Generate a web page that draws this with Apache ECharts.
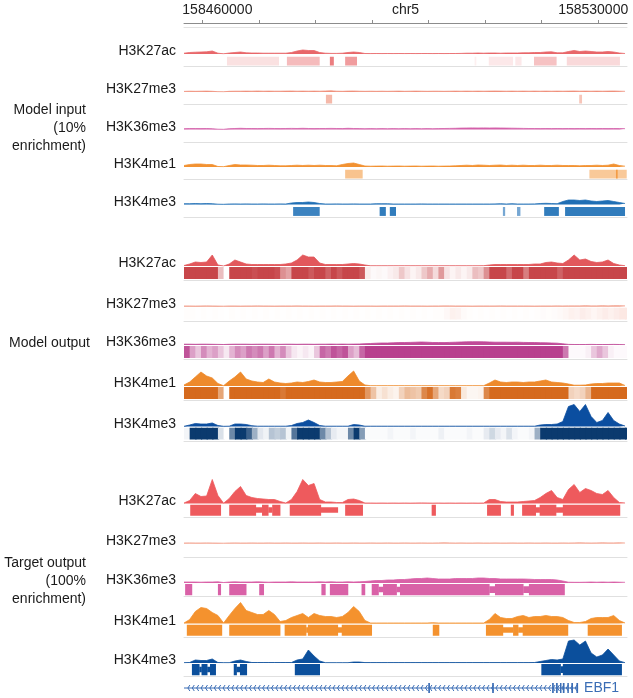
<!DOCTYPE html>
<html><head><meta charset="utf-8">
<script src="https://cdn.jsdelivr.net/npm/echarts@6/dist/echarts.min.js"></script>
<style>html,body{margin:0;padding:0;background:#fff}#c{width:633px;height:698px}</style>
</head><body><div id="c"></div>
<script>
// ---------------- DATA ----------------
const CHROM = 'chr5';
const WINDOW_START = 158456750;          // bp at left edge of the view
const WINDOW_KB = 78.35;                 // view width in kb
const tickValues = [158460000,158470000,158480000,158490000,158500000,158510000,158520000,158530000];
const tickLabels = [158460000,158530000];
const marks = ['H3K27ac','H3K27me3','H3K36me3','H3K4me1','H3K4me3'];
const groupNames = ['Model input\n(10%\nenrichment)','Model output','Target output\n(100%\nenrichment)'];

// signal tracks, 1 kb bins from the window start
const inH3K27ac = [0.8,1.5,1.8,2,2.2,3,0.8,0.2,1,1.5, 2,1.2,1,1,0.8,0.8,0.8,0.8,0.8,1.5, 3,4,3.5,3.5,1.5,0.8,0.6,0.6,0.8,1.5, 2,1.5,0.5,0.4,0.5,0.4,0.5,0.4,0.5,0.4, 0.5,0.4,0.5,0.5,0.4,0.5,0.4,0.5,0.5,0.6, 0.8,0.8,1,0.8,1,1,0.8,1,1,1, 1.2,1.2,1.5,1.5,2,2.2,1.2,1.2,2.5,3.5, 2.5,3,2.5,2,2,2.5,2,1,0.5];
const inH3K27me3 = [0.6,0.8,0.7,0.8,0.9,0.7,0.3,0.2,0.7,0.8, 0.8,0.9,0.8,1,0.8,0.9,0.8,0.8,0.9,1, 0.8,0.9,0.8,0.9,0.8,1,1.2,0.8,0.7,0.9, 1,0.8,0.7,0.8,0.7,0.8,0.7,0.8,0.9,0.7, 0.8,0.9,0.8,0.7,0.8,0.8,0.7,0.8,0.9,0.8, 0.9,0.8,0.9,0.8,0.9,1,0.9,0.8,0.9,0.8, 0.9,0.8,0.9,0.8,0.9,0.8,0.9,0.8,0.9,1, 0.8,0.9,0.8,0.9,0.8,0.9,1,0.8,0.7];
const inH3K36me3 = [0.8,1,1,0.9,1,0.8,0.3,0.2,0.8,1, 1.2,1,1,0.9,1,1.1,1,0.9,1,1.1, 1,1.2,1,0.9,1,1,1.1,1,0.9,1.2, 1,0.9,0.8,0.9,0.8,0.9,0.8,0.9,0.8,0.9, 0.8,0.9,0.8,0.9,0.8,0.9,1,1.1,1.2,1.4, 1.5,1.6,1.5,1.6,1.5,1.6,1.5,1.4,1.3,1.2, 1.1,1,1,0.9,1,0.9,1,0.9,1,0.9, 1,0.9,1,0.9,1,0.9,1,0.9,0.8];
const inH3K4me1 = [1.5,2.5,3,3,2.5,2.5,0.5,0.3,1.5,2.5, 2,2,1.8,1.5,1.5,1.8,1.5,1.2,1.2,1.5, 1.8,1.5,1.8,1.5,1.8,1.5,1.5,1.2,2.5,3.5, 4,2.5,1,0.8,0.9,1,0.8,0.9,1,0.8, 0.9,1,0.8,0.9,1,0.8,0.9,1,1.2,1.5, 1.8,1.5,2,1.8,1.5,1.8,2,1.5,1.8,1.5, 1.8,1.5,1.5,1.8,1.5,1.5,1.8,1.5,1.5,1.5, 1.2,1.5,1.5,1.8,1.5,1.8,3,1.5,0.8];
const inH3K4me3 = [0.8,0.8,1,0.8,1,0.8,0.3,0.2,0.5,0.6, 0.5,0.6,0.5,0.5,0.6,0.5,0.5,0.6,0.5,1.5, 2,2,2.5,2,1,0.5,0.5,0.6,0.5,0.5, 0.6,0.5,0.5,0.5,0.8,0.8,0.8,0.5,0.5,0.5, 0.5,0.5,0.6,0.5,0.5,0.5,0.5,0.5,0.5,0.5, 0.5,0.5,0.5,0.5,0.5,0.6,0.8,0.5,0.8,0.5, 0.5,0.5,0.6,1,1.2,1,0.8,3,4.5,4.5, 4,4.5,3.5,3,3.5,4,3,2,1];

const outH3K27ac = [0.5,2,4,3.5,4,11,1,0,2,6, 4,2,1.5,1.5,1.5,1.5,1.5,1.5,2,3, 6,11,9,9,3,1.5,1.5,1.5,1.5,2, 2.5,2,1,0.2,0.2,0.2,0.2,0.2,0.2,0.2, 0.2,0.2,0.2,0.2,0.2,0.2,0.2,0.2,0.2,0.2, 0.2,0.2,0.2,0.3,1,1.5,1.5,1.5,1.5,1.5, 1.5,1.5,2,2,3.5,4,3,2.5,6,11, 6,7,4.5,3.5,4,6,2.5,1,0.3];
const outH3K27me3 = [0.5,0.5,0.4,0.5,0.6,0.5,0.4,0.3,0.5,0.5, 0.4,0.5,0.5,0.6,0.5,0.5,0.4,0.5,0.5,0.5, 0.6,0.5,0.5,0.4,0.5,0.5,0.5,0.6,0.5,0.5, 0.4,0.5,0.5,0.5,0.4,0.5,0.5,0.5,0.5,0.6, 0.5,0.5,0.5,0.4,0.5,0.5,0.6,0.6,0.5,0.5, 0.5,0.4,0.5,0.5,0.5,0.5,0.6,0.5,0.5,0.5, 0.5,0.5,0.4,0.5,0.5,0.5,0.6,0.5,0.6,0.6, 0.6,0.7,0.6,0.6,0.7,0.6,0.7,0.7,0.6];
const outH3K36me3 = [0.8,0.8,0.7,0.8,0.8,0.7,0.6,0.5,0.7,0.8, 0.8,0.8,0.7,0.8,0.8,0.8,0.7,0.7,0.8,0.8, 0.7,0.8,0.8,0.7,0.8,0.8,0.9,0.8,0.9,0.8, 0.9,1,1.3,1.5,1.8,2,2,2.2,2.4,2.5, 2.6,2.8,3,2.8,2.5,2.5,2.4,2.6,2.8,3, 3.2,3.3,3.3,3.2,3,2.8,2.8,2.8,2.7,2.8, 2.6,2.5,2.5,2.3,2.2,2,1.8,1.2,0.6,0.5, 0.5,0.5,0.6,0.5,0.5,0.5,0.6,0.5,0.4];
const outH3K4me1 = [1,4,9,14,10,8,2.5,0.3,5,9, 14,7,5,4,3.5,7,4,3,2.5,3, 4,3.5,4.5,6,4,3.5,3.5,4,4.5,10, 15,5,1,0.3,0.3,0.3,0.3,0.3,0.3,0.3, 0.3,0.3,0.3,0.3,0.3,0.3,0.3,0.3,0.3,0.3, 0.3,0.3,0.3,0.3,3,6,4,3.5,4,4, 3.5,4,4,5,6,4,3.5,3,2,0.8, 0.8,1,2,2.5,2.5,3,3,3,0.5];
const outH3K4me3 = [0.2,1.5,3,2.5,2.5,3.5,1,0.2,0.3,2.5, 2.5,2,0.8,0.3,0.3,0.3,0.3,0.3,0.3,1, 3,4,6.5,4,1,0.3,0.3,0.3,0.3,0.3, 2,1.5,0.3,0.3,0.3,0.3,0.3,0.3,0.3,0.3, 0.3,0.3,0.3,0.3,0.3,0.3,0.3,0.3,0.3,0.3, 0.3,0.3,0.3,0.3,0.3,0.3,0.3,0.3,0.3,0.3, 0.3,0.3,0.3,1.5,2,2,2.5,5,20,22, 15,22,10,4,6,14,6,2.5,0.5];

const tgtH3K27ac = [0.5,3,10,7,7.5,24,8,0.3,5,12, 17,8,6,5,4.5,4,4,2,0.5,4, 12,24,18,20,4,1.5,1.5,1,1,4, 4.5,3,0.5,0.5,0.4,0.5,0.4,0.5,0.4,0.5, 0.4,0.5,0.6,0.5,0.4,0.5,0.4,0.5,0.4,0.5, 0.4,0.5,0.4,0.5,4,4,2,1.5,1.5,1.5, 2,2.5,3,6,10,13,6,4,14,19, 11,15,13,10,9,13,6,1,0.5];
const tgtH3K27me3 = [0.5,0.6,0.5,0.5,0.6,0.5,0.4,0.3,0.5,0.6, 0.5,0.5,0.6,0.5,0.5,0.6,0.5,0.5,0.6,0.5, 0.5,0.6,0.5,0.5,0.6,0.5,0.5,0.6,0.5,0.5, 0.6,0.5,0.5,0.6,0.5,0.5,0.6,0.5,0.5,0.6, 0.5,0.5,0.6,0.5,0.5,0.6,0.7,0.6,0.5,0.6, 0.5,0.5,0.6,0.5,0.5,0.6,0.5,0.5,0.6,0.5, 0.5,0.6,0.5,0.5,0.6,0.5,0.5,0.6,0.5,0.6, 0.7,0.6,0.5,0.6,0.7,0.6,0.6,0.7,0.5];
const tgtH3K36me3 = [1,1,1,0.8,1,1,1.2,0.5,1,1.2, 1,1,1,1.2,1,0.8,1,1,1,1.2, 1,1,1,1,1.2,1,1.2,1,1,1.2, 1,1.2,1.5,2,2.5,2.5,3,3,3.5,3.5, 4,4.5,4.5,5,4.5,4,4,4,4.5,4.5, 4.5,4.5,5,5,4.5,4.5,4,4,4,4, 4,3.8,3.5,3.5,3.5,3.5,3,2,0.8,0.7, 0.7,0.8,1,0.8,1,0.8,1,0.8,0.7];
const tgtH3K4me1 = [0.5,4,12,16,15,11,8,0.5,8,15, 21,13,11,9,9,13,9,2,3,6, 8,10,6,10,8,7,7,6,7,11, 17,12,3,0.5,0.5,0.5,0.5,0.5,0.5,0.5, 0.5,0.5,0.5,0.5,0.8,0.5,0.5,0.5,0.5,0.5, 0.5,0.5,0.5,0.5,4,10,6,5,5,7, 8,6,7,7,8,7,7,6,3,1, 1,2,5,6,6,6,8,3,0.5];
const tgtH3K4me3 = [0.3,0.5,3,2.5,2.5,4,0.5,0.3,0.3,2, 3,1.5,0.5,0.5,0.5,0.5,0.5,0.5,0.5,0.5, 3,4,13,7,2,0.3,0.3,0.3,0.3,0.3, 1,1,0.4,0.4,0.4,0.4,0.4,0.4,0.4,0.4, 0.4,0.4,0.4,0.4,0.4,0.4,0.4,0.4,0.4,0.4, 0.4,0.4,0.4,0.4,0.4,0.4,0.4,0.4,0.4,0.4, 0.4,0.4,0.5,1.5,2.5,3.5,3,4,22,23, 18,22,10,6,8,14,8,2,0.3];

// model input: called regions [startKb, endKb, intensity]
const inH3K27acSeg = [[7.6,16.8,0.2],[18.2,24.0,0.45],[25.8,26.5,0.85],[28.5,30.6,0.65],[51.4,51.7,0.1],[53.9,58.2,0.15],[58.6,59.7,0.15],[61.9,65.9,0.4],[67.7,77.1,0.25]];
const inH3K27me3Seg = [[25.1,26.2,0.6],[69.9,70.4,0.5]];
const inH3K36me3Seg = [];
const inH3K4me1Seg = [[28.5,31.6,0.55],[71.7,78.3,0.5],[76.4,76.7,0.9]];
const inH3K4me3Seg = [[19.3,24.0,0.85],[34.6,35.7,0.9],[36.4,37.5,0.9],[56.4,56.8,0.6],[58.9,59.5,0.6],[63.7,66.3,0.9],[67.4,78.0,0.9]];

// model output: per-1kb-bin probability
const outH3K27acHeat = [1,1,1,1,1,1,0.35,0,1,1, 1,1,0.95,1,1,1,0.95,0.6,0.5,1, 1,1,0.9,1,1,0.85,1,0.9,1,1, 1,0.9,0.1,0.03,0.05,0.03,0.08,0.12,0.3,0.15, 0.06,0.12,0.3,0.45,0.2,0.55,0.15,0.06,0.12,0.06, 0.12,0.35,0.3,0.6,1,1,1,0.8,1,1, 0.7,1,1,1,1,1,0.85,1,1,1, 1,1,1,1,1,1,1,1,1];
const outH3K27me3Heat = [0.02,0.02,0.01,0.02,0.01,0.02,0.01,0,0.02,0.01, 0.02,0.01,0.02,0.01,0.02,0.01,0.02,0.01,0.02,0.01, 0.02,0.01,0.02,0.01,0.02,0.01,0.02,0.01,0.02,0.01, 0.02,0.01,0.02,0.01,0.02,0.01,0.02,0.01,0.02,0.01, 0.02,0.01,0.02,0.01,0.02,0.02,0.06,0.12,0.1,0.04, 0.02,0.01,0.02,0.01,0.02,0.01,0.02,0.01,0.02,0.01, 0.02,0.01,0.02,0.03,0.02,0.03,0.05,0.08,0.12,0.1, 0.15,0.12,0.08,0.12,0.16,0.12,0.16,0.2,0.2];
const outH3K36me3Heat = [0.9,0.5,0.3,0.6,0.4,0.5,0.3,0.12,0.4,0.6, 0.5,0.7,0.6,0.7,0.5,0.7,0.4,0.6,0.3,0.12, 0.06,0.12,0.06,0.3,0.8,0.7,0.9,0.8,0.9,0.5, 0.35,0.8,1,1,1,1,1,1,1,1, 1,1,1,1,1,1,1,1,1,1, 1,1,1,1,1,1,1,1,1,1, 1,1,1,1,1,1,1,0.7,0.03,0.03, 0.03,0.08,0.3,0.45,0.3,0.08,0.03,0.03,0.03];
const outH3K4me1Heat = [1,1,1,1,1,1,0.6,0,1,1, 1,1,1,1,1,1,1,0.9,1,1, 1,1,1,1,1,1,1,1,1,1, 1,1,0.7,0.4,0.12,0.2,0.12,0.08,0.3,0.45, 0.4,0.35,0.8,0.95,0.6,0.25,0.3,0.9,0.85,0.15, 0.06,0.06,0.08,0.8,1,1,1,1,1,1, 1,1,1,1,1,1,1,1,0.3,0.25, 0.3,0.5,1,1,1,1,1,1,1];
const outH3K4me3Heat = [0.05,1,1,1,1,1,0.15,0,0.6,1, 1,0.8,0.4,0.12,0.06,0.3,0.25,0.3,0.06,0.7, 1,1,1,1,0.6,0.3,0.1,0.05,0.05,0.6, 1,0.5,0.02,0.02,0.02,0.02,0.05,0.02,0.02,0.02, 0.05,0.02,0.02,0.02,0.02,0.07,0.02,0.02,0.02,0.02, 0.05,0.02,0.02,0.1,0.2,0.1,0.05,0.15,0.05,0.02, 0.02,0.05,0.4,1,1,1,1,1,1,1, 1,1,1,1,1,1,1,1,1];

// target output: peaks [startKb, endKb, level] (1 = peak block, <1 = thin joint)
const tgtH3K27acSeg = [[1.1,6.5,1],[8.0,12.7,1],[12.7,13.8,0.5],[13.8,14.9,1],[14.9,15.6,0.5],[15.6,17.0,1],[18.7,24.2,1],[24.2,27.2,0.5],[28.5,31.6,1],[43.8,44.5,1],[53.6,56.0,1],[57.8,58.3,1],[59.8,62.2,1],[62.2,62.9,0.5],[62.9,65.8,1],[65.8,67.0,0.5],[67.0,77.1,1]];
const tgtH3K27me3Seg = [];
const tgtH3K36me3Seg = [[0.2,1.4,1],[6.0,6.5,1],[8.0,11.0,1],[13.3,14.1,1],[24.3,25.0,1],[25.8,29.0,1],[31.4,32.0,1],[33.2,34.4,1],[34.4,35.2,0.5],[35.2,37.6,1],[37.6,38.2,0.5],[38.2,54.0,1],[54.0,55.0,0.6],[55.0,60.0,1],[60.0,61.0,0.6],[61.0,67.3,1]];
const tgtH3K4me1Seg = [[0.5,6.7,1],[8.0,17.0,1],[17.8,21.6,1],[21.6,21.9,0.5],[21.9,27.2,1],[27.2,27.9,0.5],[27.9,33.2,1],[44.0,45.1,1],[53.4,56.4,1],[56.4,58.2,0.5],[58.2,59.1,1],[59.1,59.9,0.5],[59.9,67.9,1],[71.4,77.4,1]];
const tgtH3K4me3Seg = [[1.4,2.7,1],[2.7,3.1,0.5],[3.1,4.1,1],[4.1,4.6,0.5],[4.6,5.6,1],[8.8,9.3,1],[9.3,9.9,0.5],[9.9,11.1,1],[19.6,24.0,1],[63.2,66.6,1],[66.6,67.0,0.6],[67.0,77.4,1]];

// gene
const geneName = 'EBF1';
const geneSpan = [-1, 69.7];
const geneExons = [[43.2,43.5],[54.5,54.8],[65.1,65.4],[65.8,66.1],[66.5,66.7],[67.0,67.3],[67.8,68.0],[68.5,68.8],[69.4,69.7]];

// ---------------- LAYOUT / STYLE ----------------
const signals = [
  [inH3K27ac,inH3K27me3,inH3K36me3,inH3K4me1,inH3K4me3],
  [outH3K27ac,outH3K27me3,outH3K36me3,outH3K4me1,outH3K4me3],
  [tgtH3K27ac,tgtH3K27me3,tgtH3K36me3,tgtH3K4me1,tgtH3K4me3]
];
const strips = [
  [inH3K27acSeg,inH3K27me3Seg,inH3K36me3Seg,inH3K4me1Seg,inH3K4me3Seg],
  [outH3K27acHeat,outH3K27me3Heat,outH3K36me3Heat,outH3K4me1Heat,outH3K4me3Heat],
  [tgtH3K27acSeg,tgtH3K27me3Seg,tgtH3K36me3Seg,tgtH3K4me1Seg,tgtH3K4me3Seg]
];
const LEFT = 184, WIDTH = 443;
const FONT = '"Liberation Sans", Arial, sans-serif';
const layout = [
  {kind:'seg',  base:[54,92,129.5,167,204.5], off:2.5, h:10, sigH:25, sigMax:25, label:{x:86,y:128},
   sig:['#e8676a','#f0917c','#d35fa9','#f29232','#1f6fb5'], strip:['#e8676a','#ef8a72','#d35fa9','#f29232','#1a6db5']},
  {kind:'heat', base:[266,306.5,345,386,426.5], off:1, h:13.5, sigH:25, sigMax:25, label:{x:90,y:343},
   sig:['#e2585c','#f0907a','#c04a98','#ee8a2c','#0b4ea0'], strip:['#c7464a','#ee8a74','#b8408e','#d56a1e','#0b3a6e']},
  {kind:'bar',  base:[503.5,543.5,583,623.5,663], off:1, h:12.5, sigH:25, sigMax:25, label:{x:86,y:581},
   sig:['#ee5a5d','#f29c86','#d961a7','#f4922e','#0b4f9c'], strip:['#ee5a5d','#f29c86','#d961a7','#f4922e','#0b4f9c']}
];
const GENE_COLOR = '#3a6db5';

function mix(hex, t){
  const r=parseInt(hex.slice(1,3),16), g=parseInt(hex.slice(3,5),16), b=parseInt(hex.slice(5,7),16);
  const f=c=>Math.round(255+(c-255)*t);
  return 'rgb('+f(r)+','+f(g)+','+f(b)+')';
}

const grids=[], xAxes=[], yAxes=[], series=[], graphics=[];
function addGrid(top,height){
  grids.push({left:LEFT,width:WIDTH,top:top,height:height,outerBoundsMode:'none',containLabel:false});
  return grids.length-1;
}

// top coordinate axis
const g0 = addGrid(23,4.5);
xAxes.push({gridIndex:g0,type:'value',position:'top',min:WINDOW_START,max:WINDOW_START+WINDOW_KB*1000,
  name:CHROM,nameLocation:'middle',nameGap:6,nameMoveOverlap:false,nameTextStyle:{fontSize:14,color:'#222',fontFamily:FONT},
  axisLine:{show:true,onZero:false,lineStyle:{color:'#8c8c8c',width:1}},
  axisTick:{show:true,customValues:tickValues,length:3,lineStyle:{color:'#8c8c8c'}},
  axisLabel:{show:true,customValues:tickLabels,margin:6,fontSize:14,color:'#222',fontFamily:FONT,hideOverlap:false,
    formatter:v=> v===tickLabels[0] ? '{l|'+v+'}' : '{r|'+v+'}',
    rich:{l:{padding:[0,0,0,30],fontSize:14,color:'#222',fontFamily:FONT},r:{padding:[0,10,0,0],fontSize:14,color:'#222',fontFamily:FONT}}},
  splitLine:{show:false}});
xAxes.push({gridIndex:g0,type:'value',position:'bottom',min:0,max:1,
  axisLine:{show:true,onZero:false,lineStyle:{color:'#e2e2e2'}},axisTick:{show:false},axisLabel:{show:false},splitLine:{show:false}});
yAxes.push({gridIndex:g0,type:'value',min:0,max:1,show:false});

layout.forEach((L,g)=>{
  graphics.push({type:'text',x:L.label.x,y:L.label.y,silent:true,
    style:{text:groupNames[g],fill:'#1a1a1a',font:'14px '+FONT,lineHeight:18,
      align:'right',verticalAlign:'middle',textAlign:'right',textVerticalAlign:'middle'}});
  marks.forEach((m,k)=>{
    const B=L.base[k];
    graphics.push({type:'text',x:176,y:B-2.5,silent:true,
      style:{text:m,fill:'#1a1a1a',font:'14px '+FONT,align:'right',verticalAlign:'middle',textAlign:'right',textVerticalAlign:'middle'}});
    const gs=addGrid(B-L.sigH,L.sigH);
    xAxes.push({gridIndex:gs,type:'value',min:0,max:WINDOW_KB,show:false});
    yAxes.push({gridIndex:gs,type:'value',min:0,max:L.sigMax,show:false});
    series.push({type:'line',xAxisIndex:xAxes.length-1,yAxisIndex:yAxes.length-1,
      data:signals[g][k].map((v,i)=>[i,v]),symbol:'none',silent:true,animation:false,
      lineStyle:{width:0.8,color:L.sig[k]},areaStyle:{color:L.sig[k],opacity:1}});
    const gt=addGrid(B+L.off,L.h);
    xAxes.push({gridIndex:gt,type:'value',min:0,max:WINDOW_KB,
      axisLine:{show:true,onZero:false,lineStyle:{color:'#e0e0e0',width:1}},axisTick:{show:false},axisLabel:{show:false},splitLine:{show:false}});
    yAxes.push({gridIndex:gt,type:'value',min:-0.12,max:1,show:false});
    const col=L.strip[k];
    let data, render;
    if(L.kind==='heat'){
      data=strips[g][k].map((v,i)=>[i,v]);
      render=(p,api)=>{
        const i=api.value(0), v=api.value(1);
        const a=api.coord([i,1]), b=api.coord([Math.min(i+1,WINDOW_KB),0]);
        const last = i+1>=WINDOW_KB;
        return {type:'rect',shape:{x:a[0],y:a[1],width:b[0]-a[0]+(last?0:1.2),height:b[1]-a[1]},style:{fill:mix(col,v),stroke:null}};
      };
    } else if(L.kind==='seg'){
      data=strips[g][k];
      render=(p,api)=>{
        const a=api.coord([api.value(0),1]), b=api.coord([api.value(1),0]);
        return {type:'rect',shape:{x:a[0],y:a[1],width:Math.max(1.5,b[0]-a[0]),height:b[1]-a[1]},style:{fill:mix(col,api.value(2))}};
      };
    } else {
      data=strips[g][k];
      render=(p,api)=>{
        const lv=api.value(2), lo=(1-lv)/2, hi=1-lo;
        const a=api.coord([api.value(0),hi]), b=api.coord([api.value(1),lo]);
        return {type:'rect',shape:{x:a[0],y:a[1],width:Math.max(1.5,b[0]-a[0]+0.3),height:b[1]-a[1]},style:{fill:col}};
      };
    }
    series.push({type:'custom',xAxisIndex:xAxes.length-1,yAxisIndex:yAxes.length-1,data:data,renderItem:render,
      silent:true,animation:false,clip:true});
  });
});

// gene track
const gg=addGrid(683,10);
xAxes.push({gridIndex:gg,type:'value',min:0,max:WINDOW_KB,show:false});
yAxes.push({gridIndex:gg,type:'value',min:0,max:1,show:false});
series.push({type:'custom',xAxisIndex:xAxes.length-1,yAxisIndex:yAxes.length-1,data:[geneSpan],silent:true,animation:false,clip:false,
  renderItem:(p,api)=>{
    const s=api.coord([Math.max(0,api.value(0)),0.5]), e=api.coord([api.value(1),0.5]);
    const cy=s[1];
    const ch=[{type:'line',shape:{x1:s[0],y1:cy,x2:e[0],y2:cy},style:{stroke:GENE_COLOR,lineWidth:1}}];
    for(let x=e[0]-3;x>s[0];x-=4.4){
      ch.push({type:'polyline',shape:{points:[[x+2,cy-3],[x,cy],[x+2,cy+3]]},style:{stroke:GENE_COLOR,lineWidth:1,fill:null}});
    }
    ch.push({type:'text',style:{text:geneName,x:e[0]+6,y:cy,fill:GENE_COLOR,font:'14px '+FONT,
      align:'left',verticalAlign:'middle',textAlign:'left',textVerticalAlign:'middle'}});
    return {type:'group',children:ch};
  }});
series.push({type:'custom',xAxisIndex:xAxes.length-1,yAxisIndex:yAxes.length-1,data:geneExons,silent:true,animation:false,
  renderItem:(p,api)=>{
    const a=api.coord([api.value(0),1]), b=api.coord([api.value(1),0]);
    return {type:'rect',shape:{x:a[0],y:a[1],width:Math.max(1.5,b[0]-a[0]),height:b[1]-a[1]},style:{fill:GENE_COLOR}};
  }});

const chart=echarts.init(document.getElementById('c'),null,{renderer:'canvas'});
chart.setOption({backgroundColor:'#fff',animation:false,textStyle:{fontFamily:FONT},
  grid:grids,xAxis:xAxes,yAxis:yAxes,series:series,graphic:graphics});
</script></body></html>
